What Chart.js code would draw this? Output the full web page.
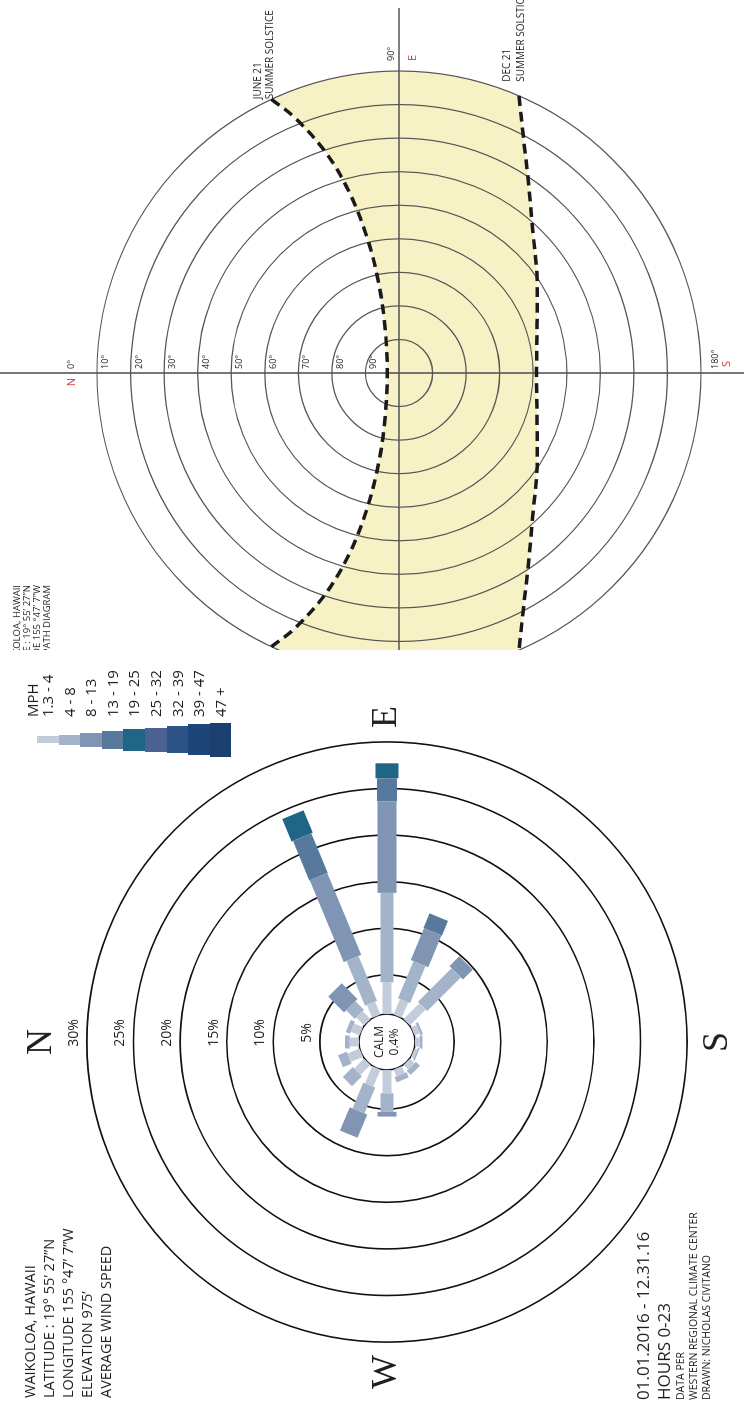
<!DOCTYPE html>
<html>
<head>
<meta charset="utf-8">
<title>Waikoloa wind rose and sun path</title>
<script src="https://cdn.jsdelivr.net/npm/chart.js@4.4.1/dist/chart.umd.min.js"></script>
<style>
  html, body { margin: 0; padding: 0; background: #fff; }
  body { width: 744px; height: 1410px; overflow: hidden; position: relative; }
  /* the sheet is laid out landscape and turned a quarter turn */
  #page { position: absolute; left: 0; top: 0; width: 1410px; height: 744px;
          transform-origin: 0 0; transform: translate(0, 1410px) rotate(-90deg);
          font-family: 'Open Sans', 'Noto Sans', sans-serif; color: #231f20; }
  #windCanvas { position: absolute; left: 0; top: 0; }
  #sunPanel { position: absolute; left: 760px; top: 0; width: 650px; height: 744px; overflow: hidden; }
  #sunCanvas { position: absolute; left: 0; top: 0; }
  .info { position: absolute; left: 12px; top: 20px; font-size: 14.5px; line-height: 19px; white-space: nowrap; }
  .dates { position: absolute; left: 10px; top: 632px; white-space: nowrap; }
  .dates .big { font-size: 17px; line-height: 21px; }
  .dates .small { font-size: 10.5px; line-height: 13px; }
  #legend { position: absolute; left: 640px; top: 26px; }
  .lg-row { position: absolute; height: 21px; left: 0; width: 130px; }
  .lg-block { position: absolute; top: 0; height: 21.5px; }
  .lg-text { position: absolute; left: 53px; top: 0; font-size: 15px; line-height: 21px; white-space: nowrap; }
  .sun-note { position: absolute; left: -120px; top: 12px; font-size: 9.5px; line-height: 10px; white-space: nowrap; text-align: right; width: 185px; }
</style>
</head>
<body>
<div id="page">
  <canvas id="windCanvas" width="740" height="744"></canvas>
  <div class="info">
    WAIKOLOA, HAWAII<br>
    LATITUDE : 19° 55’ 27”N<br>
    LONGITUDE 155 °47’ 7”W<br>
    ELEVATION 975’<br>
    AVERAGE WIND SPEED
  </div>
  <div class="dates">
    <div class="big">01.01.2016 - 12.31.16</div>
    <div class="big">HOURS 0-23</div>
    <div class="small">DATA PER</div>
    <div class="small">WESTERN REGIONAL CLIMATE CENTER</div>
    <div class="small">DRAWN: NICHOLAS CIVITANO</div>
  </div>
  <div id="legend"></div>
  <div id="sunPanel">
    <canvas id="sunCanvas" width="650" height="744"></canvas>
    <div class="sun-note">WAIKOLOA, HAWAII<br>LATITUDE : 19° 55’ 27”N<br>LONGITUDE 155 °47’ 7”W<br>SUN PATH DIAGRAM</div>
  </div>
</div>
<script>
// ---------- wind rose data ----------
const directions = ['N', 'NNE', 'NE', 'ENE', 'E', 'ESE', 'SE', 'SSE', 'S', 'SSW', 'SW', 'WSW', 'W', 'WNW', 'NW', 'NNW'];
const directionAngles = [0, 22.5, 45, 67.5, 90, 112.5, 135, 157.5, 180, 202.5, 225, 247.5, 270, 292.5, 315, 337.5];
const speedClasses = ['1.3 - 4', '4 - 8', '8 - 13', '13 - 19', '19 - 25', '25 - 32', '32 - 39', '39 - 47', '47 +'];
const classColors = ['#c3ccda', '#a3b3c9', '#7f95b3', '#56799d', '#1f6586', '#4b6191', '#2d5386', '#1d4578', '#1b3f6f'];

// percent of hours per direction, one list per speed class (stacked outward from the calm circle)
//                 N    NNE  NE   ENE  E    ESE  SE   SSE  S    SSW  SW   WSW  W    WNW  NW   NNW
const mph1to4   = [1.0, 1.0, 1.2, 1.5, 3.4, 1.8, 2.4, 0.6, 0.5, 0.3, 0.7, 0.8, 2.5, 2.0, 1.5, 1.4];
const mph4to8   = [0.5, 0.5, 1.3, 5.2, 9.6, 4.3, 5.1, 0.3, 0.3, 0.2, 0.6, 0.6, 2.0, 3.0, 1.5, 1.0];
const mph8to13  = [0.0, 0.0, 2.4, 9.5, 9.8, 3.7, 1.5, 0.0, 0.0, 0.0, 0.0, 0.0, 0.5, 2.7, 0.0, 0.0];
const mph13to19 = [0.0, 0.0, 0.0, 4.6, 2.5, 1.7, 0.0, 0.0, 0.0, 0.0, 0.0, 0.0, 0.0, 0.0, 0.0, 0.0];
const mph19to25 = [0.0, 0.0, 0.0, 2.6, 1.6, 0.0, 0.0, 0.0, 0.0, 0.0, 0.0, 0.0, 0.0, 0.0, 0.0, 0.0];
const roseSeries = [mph1to4, mph4to8, mph8to13, mph13to19, mph19to25];

const ringPercents = [5, 10, 15, 20, 25, 30];
const calmPercent = '0.4%';

// ---------- sun path data (azimuth deg, altitude deg) ----------
const juneAzimuth  = [65.0, 67.8, 71.7, 74.7, 76.7, 77.3, 73.1, 0, 286.9, 282.7, 283.3, 285.3, 288.3, 292.2, 295.0];
const juneAltitude = [0, 7.8, 21.0, 34.5, 48.2, 61.9, 75.7, 86.5, 75.7, 61.9, 48.2, 34.5, 21.0, 7.8, 0];
const decAzimuth   = [113.4, 117.3, 123.8, 133.7, 145, 160, 180, 200, 215, 226.3, 236.2, 242.7, 246.6];
const decAltitude  = [0, 9.5, 20.8, 32.2, 39.8, 46.2, 49.0, 46.2, 39.8, 32.2, 20.8, 9.5, 0];
const altitudeRings = [0, 10, 20, 30, 40, 50, 60, 70, 80];

// ---------- wind rose chart ----------
const ROSE_PX = 9.32;        // pixels per percent
const ROSE_OFFSET = 2.2;     // rings sit at offset + percent
const CALM_R = 3.0;          // calm circle radius, in chart units
const roseCx = 368, roseCy = 387;

function polar(r, deg) {
  const a = deg * Math.PI / 180;
  return { x: r * Math.sin(a), y: r * Math.cos(a) };
}

const roseWidths = [9, 13, 19, 20, 23, 25, 28, 31, 34];
const roseDatasets = roseSeries.map((series, k) => {
  const pts = [];
  series.forEach((v, d) => {
    if (!v) return;
    let start = CALM_R;
    for (let j = 0; j < k; j++) start += roseSeries[j][d];
    pts.push(polar(start, directionAngles[d]), polar(start + v, directionAngles[d]), { x: null, y: null });
  });
  return {
    label: speedClasses[k], data: pts, borderColor: classColors[k], borderWidth: roseWidths[k],
    borderCapStyle: 'butt', pointRadius: 0, tension: 0, spanGaps: false, fill: false
  };
});

const roseGrid = {
  id: 'roseGrid',
  beforeDatasetsDraw(chart) {
    const { ctx, scales: { x, y } } = chart;
    const cx = x.getPixelForValue(0), cy = y.getPixelForValue(0);
    const unit = x.getPixelForValue(1) - cx;
    ctx.save();
    ctx.strokeStyle = '#111';
    ctx.lineWidth = 1.6;
    [CALM_R].concat(ringPercents.map(p => p + ROSE_OFFSET)).forEach(r => {
      ctx.beginPath();
      ctx.arc(cx, cy, r * unit, 0, Math.PI * 2);
      ctx.stroke();
    });
    ctx.restore();
  },
  afterDatasetsDraw(chart) {
    const { ctx, scales: { x, y } } = chart;
    const cx = x.getPixelForValue(0), cy = y.getPixelForValue(0);
    const unit = x.getPixelForValue(1) - cx;
    ctx.save();
    ctx.fillStyle = '#231f20';
    ctx.textAlign = 'center';
    ctx.textBaseline = 'middle';
    ctx.font = '14px "Open Sans"';
    ringPercents.forEach(p => {
      const r = (p + ROSE_OFFSET) * unit + 13;
      ctx.fillText(p + '%', cx + 9, cy - r);
    });
    ctx.font = '12px "Open Sans"';
    ctx.fillText('CALM', cx, cy - 7);
    ctx.fillText(calmPercent, cx, cy + 8);
    ctx.font = '36px "Liberation Serif"';
    const R = (ringPercents[ringPercents.length - 1] + ROSE_OFFSET) * unit;
    ctx.fillText('N', cx, cy - R - 45);
    ctx.fillText('E', cx + R + 25, cy);
    ctx.fillText('S', cx, cy + R + 30);
    ctx.fillText('W', cx - R - 30, cy);
    ctx.restore();
  }
};

new Chart(document.getElementById('windCanvas'), {
  type: 'line',
  data: { datasets: roseDatasets },
  options: {
    responsive: false, animation: false, events: [],
    layout: { padding: 0 },
    plugins: { legend: { display: false }, tooltip: { enabled: false } },
    scales: {
      x: { type: 'linear', display: false, min: -roseCx / ROSE_PX, max: (740 - roseCx) / ROSE_PX },
      y: { type: 'linear', display: false, min: -(744 - roseCy) / ROSE_PX, max: roseCy / ROSE_PX }
    }
  },
  plugins: [roseGrid]
});

// legend blocks
const legend = document.getElementById('legend');
const head = document.createElement('div');
head.className = 'lg-text';
head.style.top = '-4px';
head.textContent = 'MPH';
legend.appendChild(head);
const legendWidths = [7, 10, 14, 18, 22, 24, 27, 31, 34];
speedClasses.forEach((name, i) => {
  const row = document.createElement('div');
  row.className = 'lg-row';
  row.style.top = (11 + i * 21.6) + 'px';
  row.innerHTML = `<div class="lg-block" style="left:${30 - legendWidths[i] / 2}px;width:${legendWidths[i]}px;background:${classColors[i]}"></div>
                   <div class="lg-text">${name}</div>`;
  legend.appendChild(row);
});

// ---------- sun path chart ----------
const SUN_PX = 302 / 90;
const sunCx = 277, sunCy = 399;

function sunPoint(az, alt) {
  return polar(90 - alt, az);
}
const junePath = juneAzimuth.map((az, i) => sunPoint(az, juneAltitude[i]));
const decPath = decAzimuth.map((az, i) => sunPoint(az, decAltitude[i]));
// band between the two solstice paths, closed outside the horizon and clipped to it
const band = junePath.concat([sunPoint(270, -15)], decPath.slice().reverse(), [sunPoint(90, -15)]);

const sunGrid = {
  id: 'sunGrid',
  beforeDatasetsDraw(chart) {
    const { ctx, scales: { x, y } } = chart;
    const cx = x.getPixelForValue(0), cy = y.getPixelForValue(0);
    ctx.save();
    ctx.beginPath();
    ctx.arc(cx, cy, 90 * (x.getPixelForValue(1) - cx), 0, Math.PI * 2);
    ctx.clip();
  },
  afterDatasetDraw(chart, args) {
    if (args.index !== 0) return;
    const { ctx, chartArea, scales: { x, y } } = chart;
    ctx.restore();
    const cx = x.getPixelForValue(0), cy = y.getPixelForValue(0);
    const unit = x.getPixelForValue(1) - cx;
    ctx.save();
    ctx.strokeStyle = '#555';
    ctx.lineWidth = 1.2;
    altitudeRings.forEach(a => {
      ctx.beginPath();
      ctx.arc(cx, cy, (90 - a) * unit, 0, Math.PI * 2);
      ctx.stroke();
    });
    ctx.lineWidth = 1.6;
    ctx.beginPath();
    ctx.moveTo(cx, chartArea.top); ctx.lineTo(cx, chartArea.bottom);
    ctx.moveTo(chartArea.left, cy); ctx.lineTo(chartArea.right - 8, cy);
    ctx.stroke();
    ctx.restore();
  },
  afterDatasetsDraw(chart) {
    const { ctx, scales: { x, y } } = chart;
    const cx = x.getPixelForValue(0), cy = y.getPixelForValue(0);
    const unit = x.getPixelForValue(1) - cx;
    ctx.save();
    ctx.font = '9px "Open Sans"';
    ctx.fillStyle = '#231f20';
    ctx.textBaseline = 'middle';
    // each altitude label sits just outside its own ring, on the east side of the north line
    altitudeRings.concat([90]).forEach(a => {
      ctx.fillText(a + '°', cx + 4, cy - (90 - a + 7.5) * unit);
    });
    const R = 90 * unit;
    ctx.fillText('90°', cx + R + 10, cy - 8);
    ctx.fillText('180°', cx + 4, cy + R + 14);
    ctx.font = '11px "Open Sans"';
    ctx.fillStyle = '#d0383a';
    ctx.textAlign = 'right';
    ctx.fillText('N', cx - 5, cy - (97.5 * unit));
    ctx.textAlign = 'left';
    ctx.fillText('E', cx + R + 10, cy + 14);
    ctx.fillText('S', cx + 6, cy + R + 26);
    ctx.fillStyle = '#231f20';
    ctx.font = '10px "Open Sans"';
    const j = polar(90, juneAzimuth[0]);
    const d = polar(90, decAzimuth[0]);
    const jx = cx + j.x * unit, jy = cy - j.y * unit;
    const dx = cx + d.x * unit, dy = cy - d.y * unit;
    ctx.fillText('JUNE 21', jx, jy - 13);
    ctx.fillText('SUMMER SOLSTICE', jx, jy - 1);
    ctx.fillText('DEC 21', dx + 14, dy - 12);
    ctx.fillText('SUMMER SOLSTICE', dx + 14, dy + 2);
    ctx.restore();
  }
};

const dashed = { borderColor: '#1a1a1a', borderWidth: 3.5, borderDash: [10, 6],
                 pointRadius: 0, tension: 0.35, fill: false, order: 0 };
new Chart(document.getElementById('sunCanvas'), {
  type: 'line',
  data: {
    datasets: [
      { label: 'sun band', data: band, fill: 'shape', backgroundColor: '#f7f2c6', borderWidth: 0,
        pointRadius: 0, tension: 0, order: 2 },
      Object.assign({ label: 'June 21', data: junePath }, dashed),
      Object.assign({ label: 'Dec 21', data: decPath }, dashed)
    ]
  },
  options: {
    responsive: false, animation: false, events: [],
    layout: { padding: 0 },
    plugins: { legend: { display: false }, tooltip: { enabled: false } },
    scales: {
      x: { type: 'linear', display: false, min: -sunCx / SUN_PX, max: (650 - sunCx) / SUN_PX },
      y: { type: 'linear', display: false, min: -(744 - sunCy) / SUN_PX, max: sunCy / SUN_PX }
    }
  },
  plugins: [sunGrid]
});
</script>
</body>
</html>
